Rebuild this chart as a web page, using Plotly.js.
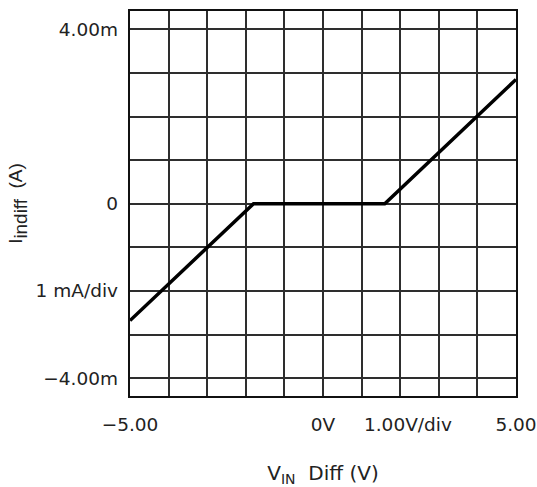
<!DOCTYPE html>
<html>
<head>
<meta charset="utf-8">
<script src="https://cdn.plot.ly/plotly-3.0.1.min.js"></script>
<style>html,body{margin:0;padding:0;background:#fff;}#chart{width:537px;height:487px;}</style>
</head>
<body>
<div id="chart"></div>
<script>
// Data (V in volts, I in amps)
const vinDiff = [-5.0, -1.8, 1.6, 5.0];
const iinDiff = [-0.00268, 0.0, 0.0, 0.00285];

// Tick labels
const xTickVals = [-5, 0, 2.2, 5];
const xTickText = ['\u22125.00', '0V', '1.00V/div', '5.00'];
const yTickVals = [0.004, 0, -0.002, -0.004];
const yTickText = ['4.00m', '0', '1 mA/div', '\u22124.00m'];

const xRange = [-5, 5];
const yRange = [-0.00441, 0.00442];

const trace = {
  x: vinDiff, y: iinDiff, type: 'scatter', mode: 'lines',
  line: {color: '#000', width: 3.5}, hoverinfo: 'skip', showlegend: false
};

const layout = {
  width: 537, height: 487,
  margin: {l: 130, r: 21, t: 11, b: 91},
  paper_bgcolor: '#fff', plot_bgcolor: '#fff',
  showlegend: false,
  xaxis: {
    range: xRange, dtick: 1, tick0: 0, showticklabels: false, ticks: '',
    showgrid: true, gridcolor: '#2e2e2e', gridwidth: 2, zeroline: false,
    showline: true, mirror: true, linecolor: '#111', linewidth: 2
  },
  yaxis: {
    range: yRange, dtick: 0.001, tick0: 0, showticklabels: false, ticks: '',
    showgrid: true, gridcolor: '#2e2e2e', gridwidth: 2, zeroline: false,
    showline: true, mirror: true, linecolor: '#111', linewidth: 2
  },
  xaxis2: {
    overlaying: 'x', anchor: 'y', side: 'bottom', range: xRange,
    tickmode: 'array', tickvals: xTickVals, ticktext: xTickText,
    showgrid: false, zeroline: false, showline: false, ticks: '',
    ticklabeloverflow: 'allow',
    tickfont: {family: 'DejaVu Sans', size: 18.5, color: '#222'}, ticklabelstandoff: 15,
    title: {text: 'V<sub>IN</sub>  Diff (V)', font: {family: 'DejaVu Sans', size: 20, color: '#222'}, standoff: 35}
  },
  yaxis2: {
    overlaying: 'y', anchor: 'x', side: 'left', range: yRange,
    tickmode: 'array', tickvals: yTickVals, ticktext: yTickText,
    showgrid: false, zeroline: false, showline: false, ticks: '',
    tickfont: {family: 'DejaVu Sans', size: 18.5, color: '#222'}, ticklabelstandoff: 11,
    title: {text: '<span style="font-size:19px">I</span><sub>indiff</sub><span style="font-size:19px">  (A)</span>', font: {family: 'Liberation Sans', size: 27, color: '#222'}, standoff: 5}
  }
};

const trace2 = {x: [xRange[0]], y: [yRange[0]], xaxis: 'x2', yaxis: 'y2', type: 'scatter', mode: 'markers',
  marker: {opacity: 0}, hoverinfo: 'skip', showlegend: false};

Plotly.newPlot('chart', [trace, trace2], layout, {staticPlot: true, displayModeBar: false});
</script>
</body>
</html>
